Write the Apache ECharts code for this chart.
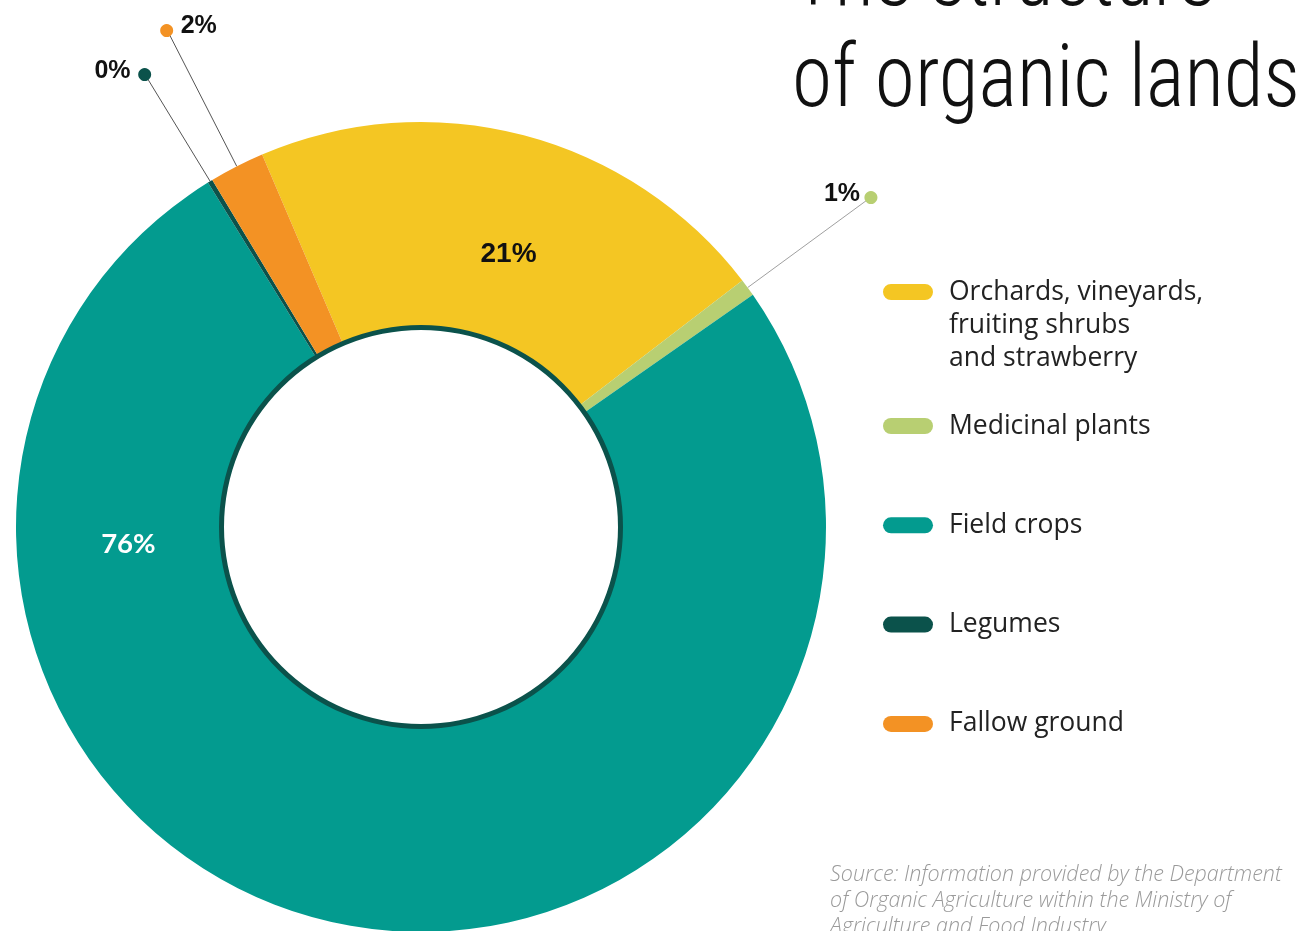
<!DOCTYPE html>
<html><head><meta charset="utf-8">
<script src="https://cdn.jsdelivr.net/npm/echarts@6/dist/echarts.min.js"></script>
<style>html,body{margin:0;padding:0;background:#fff}#c{width:1306px;height:931px}</style>
</head><body><div id="c"></div>
<script>
const categories = ['Orchards, vineyards, fruiting shrubs and strawberry','Medicinal plants','Field crops','Legumes','Fallow ground'];
const legendLabels = ['Orchards, vineyards,\nfruiting shrubs\nand strawberry','Medicinal plants','Field crops','Legumes','Fallow ground'];
const shares = [21.0, 0.7, 75.9, 0.2, 2.2];
const colors = ['#F4C623','#B8CF72','#039B8F','#0B524B','#F39224'];
const titleLines = ['The structure','of organic lands'];
const sourceText = 'Source: Information provided by the Department\nof Organic Agriculture within the Ministry of\nAgriculture and Food Industry';

const chart = echarts.init(document.getElementById('c'));
const fmtPct = v => Math.round(v) + '%';
const pill = 'path://M8 0H42A8 8 0 0 1 42 16H8A8 8 0 0 1 8 0Z';
const pillTop = 'path://M8 0H42A8 8 0 0 1 42 16H8A8 8 0 0 1 8 0ZM25 81.99h0.01v0.01h-0.01Z';

// condensed title: measure the light face and squeeze it to the reference width
const titleFont = "300 88px 'Roboto Condensed', Roboto, sans-serif";
const mctx = document.createElement('canvas').getContext('2d');
mctx.font = titleFont;
const titleScale = 508 / mctx.measureText(titleLines[1]).width;

const labelStyles = [
  {position:'inside', fmt: v => fmtPct(v), color:'#111', font:'Liberation Sans', size:28},
  {position:'outside', fmt: v => '{v|' + fmtPct(v) + '} {dot|●}', len:152, line:'#a0a0a0', align:'right', dx:8},
  {position:'inside', fmt: v => fmtPct(v), color:'#fff', font:'Lato', size:27.5},
  {position:'outside', fmt: v => '{v|' + fmtPct(v) + '}  {dot|●}', len:125, line:'#555', dx:7},
  {position:'outside', fmt: v => '{dot|●}  {v|' + fmtPct(v) + '}', len:153, line:'#555', align:'left', dx:-8}
];
const insideShift = {0:{dx:10, dy:23}, 2:{dx:-231, dy:-282}};

const data = categories.map((name, i) => {
  const ls = labelStyles[i];
  const item = {name, value: shares[i], itemStyle:{color: colors[i]}};
  if (ls.position === 'inside') {
    item.label = {position:'inside', formatter: p => ls.fmt(p.value), color: ls.color, fontFamily: ls.font, fontWeight:'bold', fontSize: ls.size};
    item.labelLine = {show:false};
  } else {
    item.label = {position:'outside', formatter: p => ls.fmt(p.value), distanceToLabelLine:0,
      rich:{ v:{fontFamily:'Liberation Sans', fontWeight:'bold', fontSize:25, color:'#111', padding:[0,0,7,0]},
             dot:{fontSize:17, color: colors[i], fontFamily:'DejaVu Sans'} }};
    item.labelLine = {show:true, length: ls.len, length2:0, smooth:false, lineStyle:{color: ls.line, width:1}};
  }
  return item;
});

const legendText = {fontFamily:"'Open Sans'", fontSize:26.5, color:'#222', lineHeight:33, padding:[0,0,0,11]};

const option = {
  backgroundColor:'#fff',
  animation:false,
  title:[
    {text: sourceText, left: 830, top: 862, padding:0,
     textStyle:{fontFamily:"'Open Sans'", fontStyle:'italic', fontWeight:300, fontSize:21.5, lineHeight:26, color:'#9a9a9a'}}
  ],
  graphic:[
    {type:'text', right: 6, top: -68, scaleX: titleScale, originX: 0,
     style:{text: titleLines.join('\n'), font: titleFont, lineHeight:101, fill:'#111', align:'right'}}
  ],
  legend:[
    {data:[{name:categories[0]}], left:883, top:275.5, padding:0, selectedMode:false, icon:pillTop, itemWidth:50, itemHeight:82,
     formatter: n => legendLabels[categories.indexOf(n)], textStyle: legendText},
    {data:categories.slice(1).map(n=>({name:n})), orient:'vertical', left:883, top:409.5, padding:0, itemGap:66.3, selectedMode:false, icon:pill, itemWidth:50, itemHeight:16,
     formatter: n => legendLabels[categories.indexOf(n)], textStyle: legendText}
  ],
  series:[
    {type:'pie', name:'Structure', center:[421,527], radius:[200,405], startAngle:113.1, clockwise:true,
     avoidLabelOverlap:false, z:2,
     labelLayout: p => {
       const ls = labelStyles[p.dataIndex];
       const s = insideShift[p.dataIndex];
       const r = {};
       if (s) { r.dx = s.dx; r.dy = s.dy; }
       if (ls.dx) r.dx = ls.dx;
       if (ls.align) r.align = ls.align;
       return r;
     },
     data},
    {type:'pie', name:'ring', center:[421,527], radius:[197,202], silent:true, z:3,
     label:{show:false}, labelLine:{show:false}, itemStyle:{color:'#0B524B'},
     data:[{name:'ring', value:1}]}
  ]
};
chart.setOption(option);
</script></body></html>
